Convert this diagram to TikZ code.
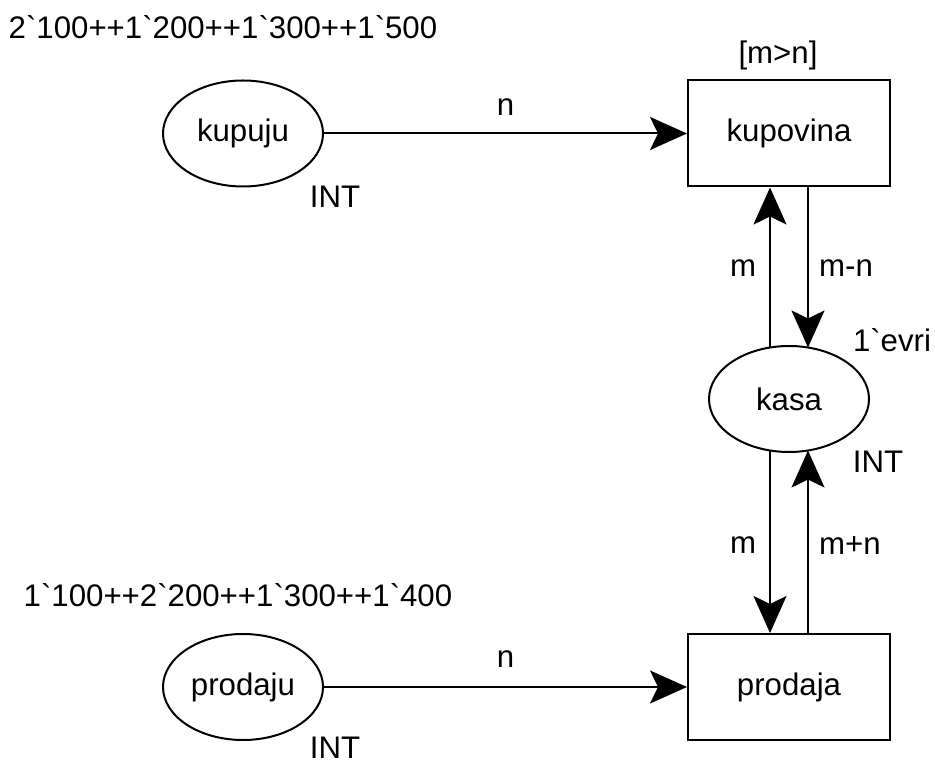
\documentclass[tikz,border=0pt]{standalone}
\usepackage{fontspec}
\setmainfont{Liberation Sans}
\usetikzlibrary{arrows.meta,shapes.geometric}
\newcommand{\gr}{\textasciigrave}
\begin{document}
\begin{tikzpicture}[x=0.5pt,y=-0.5pt,
  font=\fontsize{15.6pt}{18pt}\selectfont,
  every node/.style={inner sep=0pt},
  place/.style={draw,line width=1pt,ellipse,minimum width=80pt,minimum height=53pt},
  trans/.style={draw,line width=1pt,rectangle,minimum width=101pt,minimum height=53pt},
  arc/.style={line width=1pt,-{Stealth[length=18.5pt,width=16.5pt,inset=4pt]}},
  lbl/.style={anchor=center}]
\useasboundingbox (0,0) rectangle (935,763);
% nodes
\node[place] (kupuju) at (243,133.5) {kupuju};
\node[trans] (kupovina) at (789,133.5) {kupovina};
\node[place] (kasa) at (789,399) {kasa};
\node[trans] (prodaja) at (789,687) {prodaja};
\node[place] (prodaju) at (243,687) {prodaju};
% inscriptions
\node[lbl] (init1) at (223,27) {2\gr100++1\gr200++1\gr300++1\gr500};
\node[lbl] (guard) at (778,55) {[m>n]};
\node[lbl] (t1) at (335,197) {INT};
\node[lbl] (init2) at (892,340) {1\gr evri};
\node[lbl] (t2) at (878,462) {INT};
\node[lbl] (init3) at (238,595) {1\gr100++2\gr200++1\gr300++1\gr400};
\node[lbl] (t3) at (335,748) {INT};
% arcs
\draw[arc] (kupuju.east) -- (kupovina.west) node[lbl,pos=0.5,yshift=13pt] {n};
\draw[arc] (prodaju.east) -- (prodaja.west) node[lbl,pos=0.5,yshift=14pt] {n};
\coordinate (kasaTL) at ([shift={(-19,-51.5)}]kasa.center);
\coordinate (kasaTR) at ([shift={(19,-51.5)}]kasa.center);
\coordinate (kasaBL) at ([shift={(-19,51.5)}]kasa.center);
\coordinate (kasaBR) at ([shift={(19,51.5)}]kasa.center);
\coordinate (kupBL) at ([shift={(-19,0)}]kupovina.south);
\coordinate (kupBR) at ([shift={(19,0)}]kupovina.south);
\coordinate (proTL) at ([shift={(-19,0)}]prodaja.north);
\coordinate (proTR) at ([shift={(19,0)}]prodaja.north);
\draw[arc] (kasaTL) -- (kupBL);
\draw[arc] (kupBR) -- (kasaTR);
\draw[arc] (kasaBL) -- (proTL);
\draw[arc] (proTR) -- (kasaBR);
\node[lbl] (lm1) at (743,268) {m};
\node[lbl] (lmn) at (846,268) {m-n};
\node[lbl] (lm2) at (743,545) {m};
\node[lbl] (lmpn) at (850,545) {m+n};
\end{tikzpicture}
\end{document}
